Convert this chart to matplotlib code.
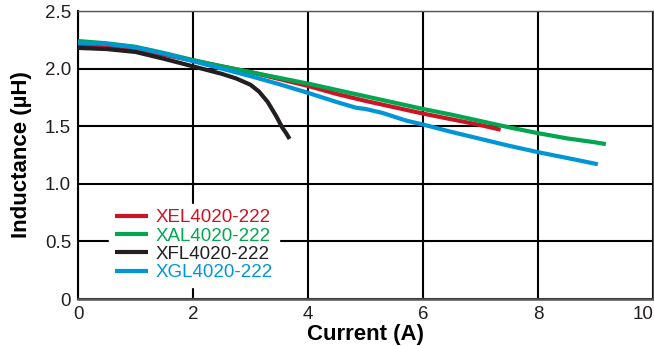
import matplotlib
matplotlib.use('Agg')
import matplotlib.pyplot as plt

plt.rcParams['font.family'] = ['Liberation Sans', 'DejaVu Sans']

# valori
xel_i = [0, 0.5, 1, 1.5, 2, 2.5, 3, 3.5, 4, 4.5, 5, 5.5, 6, 6.5, 7, 7.35]
xel_l = [2.195, 2.185, 2.16, 2.12, 2.07, 2.02, 1.97, 1.91, 1.85, 1.78, 1.72, 1.665, 1.61, 1.56, 1.51, 1.47]

xal_i = [0, 0.25, 0.5, 1, 1.5, 2, 2.5, 3, 3.5, 4, 4.5, 5, 5.5, 6, 6.5, 7, 7.5, 8, 8.5, 9, 9.18]
xal_l = [2.24, 2.23, 2.22, 2.19, 2.135, 2.075, 2.02, 1.97, 1.92, 1.87, 1.815, 1.76, 1.705, 1.65, 1.6, 1.545, 1.49, 1.44, 1.395, 1.36, 1.345]

xfl_i = [0, 0.5, 1, 1.5, 2, 2.5, 2.75, 3.0, 3.15, 3.3, 3.45, 3.55, 3.62, 3.68]
xfl_l = [2.18, 2.17, 2.145, 2.085, 2.02, 1.955, 1.915, 1.86, 1.80, 1.71, 1.585, 1.49, 1.44, 1.39]

xgl_i = [0, 0.5, 1, 1.5, 2, 2.5, 3, 3.5, 4, 4.5, 4.84, 5.0, 5.3, 5.7, 6, 6.5, 7, 7.5, 8, 8.5, 9.04]
xgl_l = [2.225, 2.215, 2.185, 2.13, 2.065, 2.0, 1.935, 1.865, 1.79, 1.71, 1.66, 1.65, 1.615, 1.55, 1.515, 1.45, 1.39, 1.33, 1.275, 1.225, 1.17]

nomi = ['XEL4020-222', 'XAL4020-222', 'XFL4020-222', 'XGL4020-222']
colori = ['#cc1424', '#00a650', '#231f20', '#0096d6']

fig = plt.figure(figsize=(6.54, 3.46), dpi=100)
ax = fig.add_axes([0.1193, 0.1358, 0.8792, 0.8322])

serie = [(xel_i, xel_l), (xal_i, xal_l), (xfl_i, xfl_l), (xgl_i, xgl_l)]
ordine = [3, 2, 0, 1]  # ordine di disegno
linee = {}
for k in ordine:
    x, y = serie[k]
    linee[k], = ax.plot(x, y, color=colori[k], lw=3.0, solid_capstyle='butt',
                        solid_joinstyle='round', label=nomi[k], zorder=3 + k)

ax.set_xlim(0, 10)
ax.set_ylim(0, 2.5)
ax.set_xticks([0, 2, 4, 6, 8, 10])
ax.set_yticks([0, 0.5, 1.0, 1.5, 2.0, 2.5])
ax.set_yticklabels(['0', '0.5', '1.0', '1.5', '2.0', '2.5'])
ax.tick_params(length=0, labelsize=13.5, pad=5, colors='#231f20')
ax.get_xticklabels()[-1].set_horizontalalignment('right')
ax.grid(True, color='black', lw=1.5)
ax.set_axisbelow(True)
for s in ['top', 'right']:
    ax.spines[s].set_color('#555555')
    ax.spines[s].set_linewidth(1.0)
ax.spines['bottom'].set_color('#555555')
ax.spines['bottom'].set_linewidth(1.8)
ax.spines['left'].set_color('black')
ax.spines['left'].set_linewidth(1.5)

ax.set_xlabel('Current (A)', fontsize=16, fontweight='bold', labelpad=1)
ax.set_ylabel('Inductance (µH)', fontsize=16, fontweight='bold', labelpad=9)

leg = ax.legend([linee[k] for k in range(4)], nomi, loc='upper left',
                bbox_to_anchor=(0.054, 0.331), fontsize=13.5, frameon=True,
                framealpha=1, edgecolor='white', fancybox=False,
                handlelength=1.75, handletextpad=0.45, labelspacing=0.06,
                borderpad=0.3, borderaxespad=0)
for t, c in zip(leg.get_texts(), colori):
    t.set_color(c)

plt.savefig('out.png', dpi=100)
